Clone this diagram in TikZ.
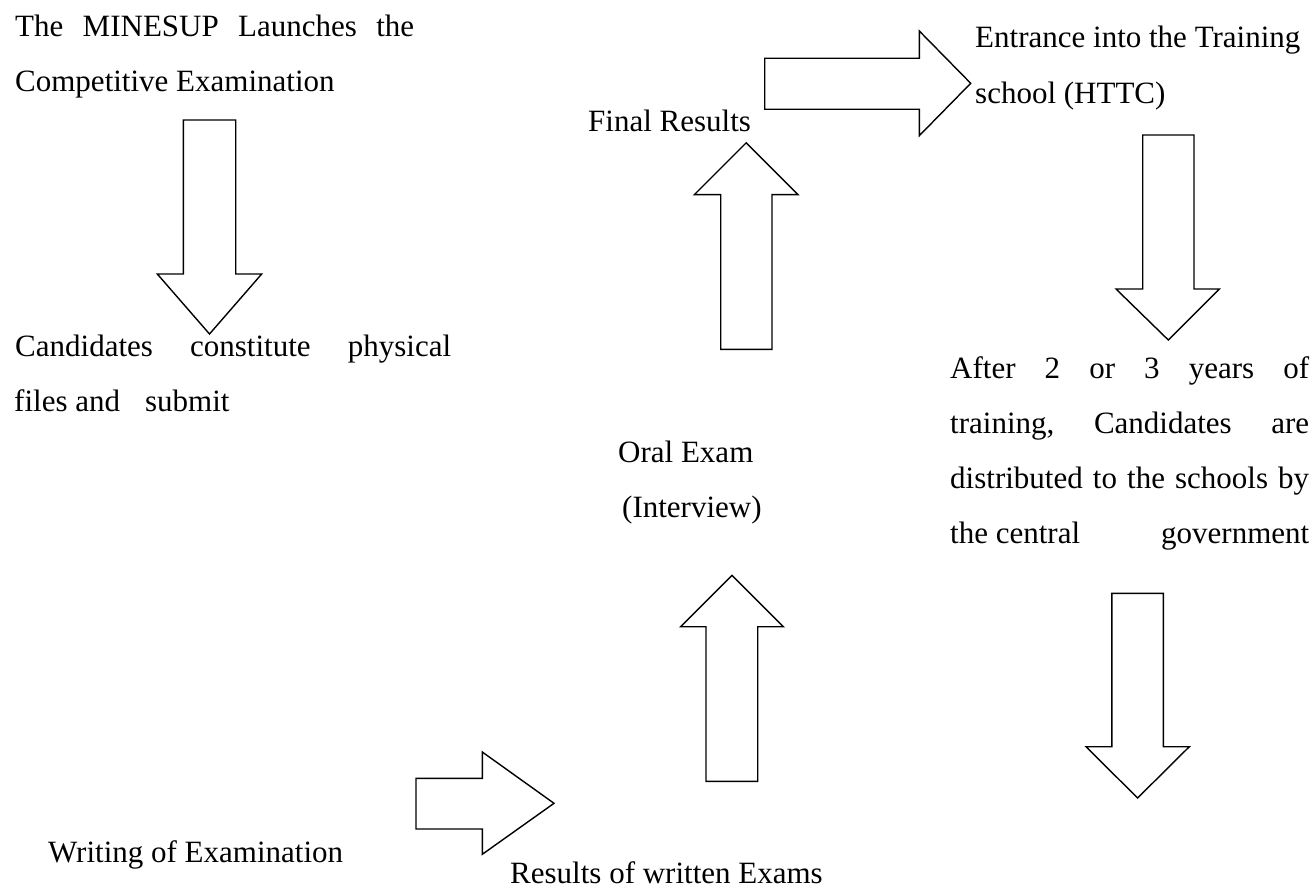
\documentclass[tikz,border=0pt]{standalone}
\usepackage{fontspec}
\setmainfont{Liberation Serif}
\begin{document}
\begin{tikzpicture}[x=1pt,y=-1pt,
  blockarrow/.style={draw=black,line width=1.4pt,fill=white,line join=miter},
  txt/.style={anchor=base west,inner sep=0pt,font=\fontsize{31}{37}\selectfont}]
\useasboundingbox (0,0) rectangle (1316,890);
% texts
\node[txt] (t1a) at (15,36.7) {\hbox to 399pt{The\hfill MINESUP\hfill Launches\hfill the}};
\node[txt] (t1b) at (15,91.7) {Competitive Examination};
\node[txt] (t2a) at (15,356.7) {\hbox to 436pt{Candidates\hfill constitute\hfill physical}};
\node[txt] (t2b) at (14,411.7) {files and\hspace{25pt}submit};
\node[txt] (t3) at (588,131.7) {Final Results};
\node[txt] (t4a) at (975,47.3) {Entrance into the Training};
\node[txt] (t4b) at (975,103.3) {school (HTTC)};
\node[txt] (t5a) at (950,378) {\hbox to 359pt{After\hfill 2\hfill or\hfill 3\hfill years\hfill of}};
\node[txt] (t5b) at (950,433) {\hbox to 359pt{training,\hfill Candidates\hfill are}};
\node[txt] (t5c) at (950,488) {\hbox to 359pt{distributed\hfill to\hfill the\hfill schools\hfill by}};
\node[txt] (t5d) at (950,543) {\hbox to 359pt{the central\hfill government}};
\node[txt] (t6a) at (618,462) {Oral Exam};
\node[txt] (t6b) at (622,517) {(Interview)};
\node[txt] (t7) at (48,862) {Writing of Examination};
\node[txt] (t8) at (510,883) {Results of written Exams};
% block arrows
\draw[blockarrow] (183.3,120) -- (235.7,120) -- (235.7,274) -- (261.7,274) -- (209.5,334) -- (157.3,274) -- (183.3,274) -- cycle;
\draw[blockarrow] (720.7,349.3) -- (772,349.3) -- (772,194.7) -- (798,194.7) -- (746.2,142.8) -- (694.3,194.7) -- (720.7,194.7) -- cycle;
\draw[blockarrow] (764.7,58.3) -- (919.3,58.3) -- (919.3,31) -- (970.7,83.3) -- (919.3,135.7) -- (919.3,109.3) -- (764.7,109.3) -- cycle;
\draw[blockarrow] (1142.7,135) -- (1194,135) -- (1194,289) -- (1219.3,289) -- (1168.3,340) -- (1116,289) -- (1142.7,289) -- cycle;
\draw[blockarrow] (1111.8,593.3) -- (1163.3,593.3) -- (1163.3,746.7) -- (1189.3,746.7) -- (1137.6,798) -- (1086,746.7) -- (1111.8,746.7) -- cycle;
\draw[blockarrow] (416,778.3) -- (482.3,778.3) -- (482.3,752) -- (554,803.3) -- (482.3,854.3) -- (482.3,829) -- (416,829) -- cycle;
\draw[blockarrow] (706,781.3) -- (757.7,781.3) -- (757.7,626.7) -- (783.3,626.7) -- (732,575.4) -- (680.7,626.7) -- (706,626.7) -- cycle;
\end{tikzpicture}
\end{document}
